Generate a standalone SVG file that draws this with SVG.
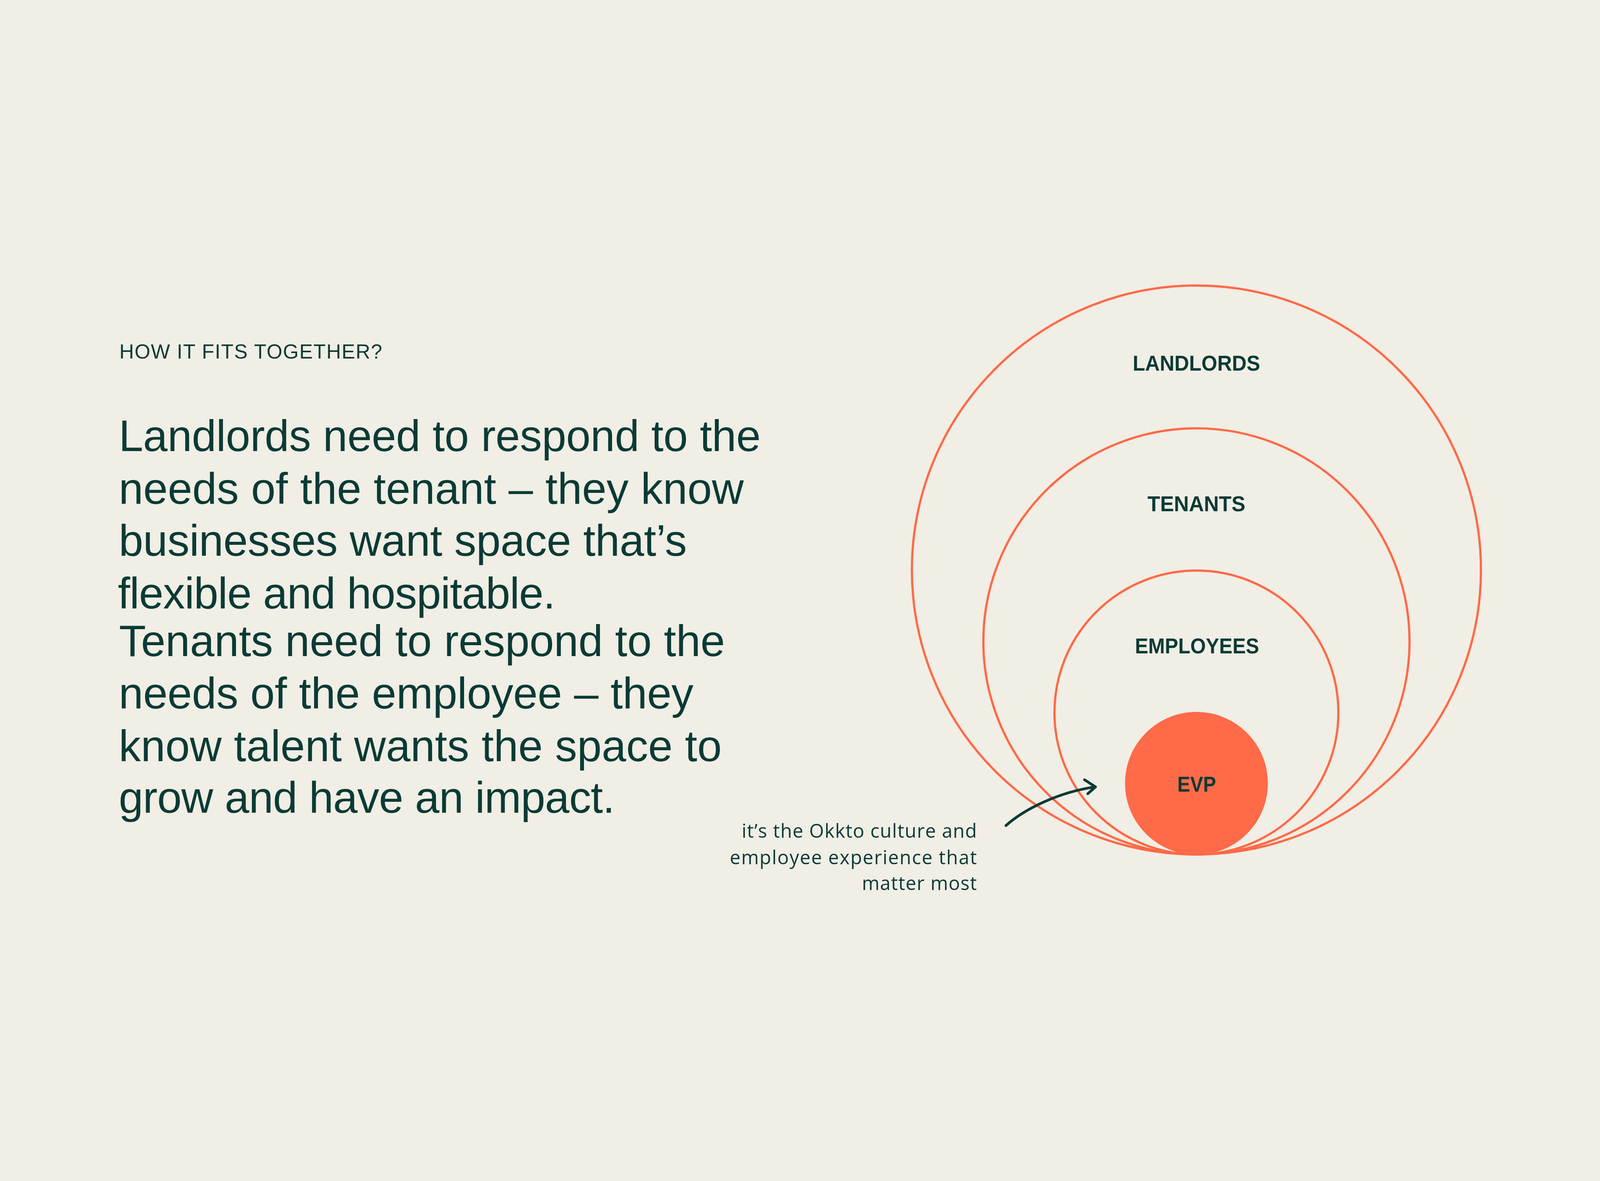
<svg xmlns="http://www.w3.org/2000/svg" width="5376" height="3024" viewBox="0 0 5376 3024" style="width:100vw;height:100vh;background:#F0EEE5">
<style>
.ring{fill:none;stroke:#FF6A48;stroke-width:7.5}
.lbl{font-family:"Liberation Sans",Arial,sans-serif;font-weight:700;font-size:72px;fill:#0B3A35;text-anchor:middle}
.body{font-family:"Liberation Sans",Arial,sans-serif;font-size:148px;fill:#0B3A35}
.head{font-family:"Liberation Sans",Arial,sans-serif;font-size:68px;fill:#0B3A35}
.note{font-family:"Open Sans","Liberation Sans",Arial,sans-serif;font-size:64px;fill:#0B3A35;text-anchor:end}
.conn{fill:none;stroke:#0B3A35;stroke-width:9;stroke-linecap:round;stroke-linejoin:round}
</style>
<rect x="-4000" y="-4000" width="13376" height="11024" fill="#F0EEE5"/>
<text class="head" x="401" y="732" textLength="883">HOW IT FITS TOGETHER?</text>
<g id="body-text">
<text class="body" x="399" y="1044" textLength="2157">Landlords need to respond to the</text>
<text class="body" x="399" y="1221" textLength="2100">needs of the tenant – they know</text>
<text class="body" x="399" y="1395" textLength="1909">businesses want space that’s</text>
<text class="body" x="396" y="1573" textLength="1470">flexible and hospitable.</text>
<text class="body" x="400" y="1733" textLength="2036">Tenants need to respond to the</text>
<text class="body" x="399" y="1909" textLength="1931">needs of the employee – they</text>
<text class="body" x="399" y="2085" textLength="2026">know talent wants the space to</text>
<text class="body" x="399" y="2259" textLength="1667">grow and have an impact.</text>
</g>
<g id="landlords">
<circle class="ring" cx="4020" cy="1443" r="956"/>
<text class="lbl" x="4020" y="773" textLength="428" lengthAdjust="spacingAndGlyphs">LANDLORDS</text>
</g>
<g id="tenants">
<circle class="ring" cx="4020" cy="1683" r="716"/>
<text class="lbl" x="4020" y="1245" textLength="329" lengthAdjust="spacingAndGlyphs">TENANTS</text>
</g>
<g id="employees">
<circle class="ring" cx="4020" cy="1922" r="477"/>
<text class="lbl" x="4022" y="1723" textLength="417" lengthAdjust="spacingAndGlyphs">EMPLOYEES</text>
</g>
<g id="evp">
<circle cx="4020" cy="2160" r="240" fill="#FF6A48"/>
<text class="lbl" x="4021" y="2188" textLength="130" lengthAdjust="spacingAndGlyphs">EVP</text>
</g>
<g id="connectors">
<path class="conn" d="M3380,2302 C3440,2248 3555,2190 3679,2172"/>
<path class="conn" d="M3644,2148 L3681,2172 L3655,2195"/>
</g>
<g id="annotation">
<text class="note" x="3282" y="2343" textLength="790">it’s the Okkto culture and</text>
<text class="note" x="3282" y="2432" textLength="830">employee experience that</text>
<text class="note" x="3282" y="2519" textLength="386">matter most</text>
</g>
</svg>
